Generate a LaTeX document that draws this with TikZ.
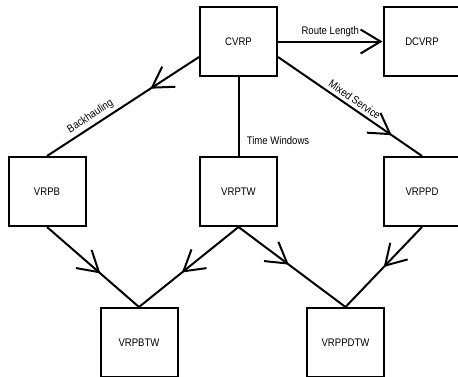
\documentclass[tikz,border=0pt]{standalone}
\usepackage{fontspec}
\setmainfont[FakeStretch=0.87]{Liberation Sans}
\usetikzlibrary{arrows.meta,decorations.markings,positioning}

\begin{document}
\begin{tikzpicture}[x=1pt, y=-1pt, font=\fontsize{11}{13}\selectfont,
    block/.style={rectangle, draw, line width=2pt,
        minimum width=77pt, minimum height=69pt, inner sep=0pt},
    line/.style={draw, line width=2pt},
    tip/.style={-{Straight Barb[length=20pt, width=24pt]}},
    midarrow/.style={postaction={decorate}, decoration={markings,
        mark=at position #1 with {\arrow{Straight Barb[length=20pt, width=24pt]}}}}
    ]
    \path[use as bounding box, clip] (0,0) rectangle (458,376);

    % Nodes
    \node [block] (cvrp) at (238.5,41.5) {CVRP};
    \node [block] (dcvrp) at (422,41.5) {DCVRP};
    \node [block] (vrpb) at (47,191.5) {VRPB};
    \node [block] (vrptw) at (238.5,191.5) {VRPTW};
    \node [block] (vrppd) at (422,191.5) {VRPPD};
    \node [block] (vrpbtw) at (139,342.5) {VRPBTW};
    \node [block] (vrppdtw) at (345.5,342.5) {VRPPDTW};

    % Paths
    \draw[line, tip] (cvrp) -- node[above] {Route Length} (dcvrp);
    \draw[line, midarrow=0.32] ([yshift=-15.5pt]cvrp.west) -- node[pos=0.68, sloped, above] {Backhauling} (vrpb.north);
    \draw[line] (cvrp.south) -- node[pos=0.81, right=4pt] {Time Windows} (vrptw.north);
    \draw[line, midarrow=0.79] ([yshift=-15.5pt]cvrp.east) -- node[midway, sloped, above] {Mixed Service} (vrppd.north);
    \draw[line, midarrow=0.58] (vrpb.south) -- (vrpbtw.north);
    \draw[line, midarrow=0.57] (vrptw.south) -- (vrpbtw.north);
    \draw[line, midarrow=0.47] (vrptw.south) -- (vrppdtw.north);
    \draw[line, midarrow=0.5] (vrppd.south) -- (vrppdtw.north);
\end{tikzpicture}
\end{document}
